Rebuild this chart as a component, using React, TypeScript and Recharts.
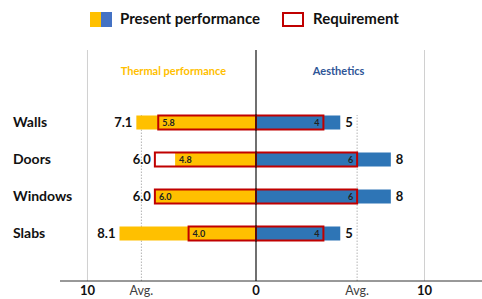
import { ComposedChart, Bar, XAxis, YAxis, ReferenceLine, LabelList, Legend } from 'recharts';

const categories = ['Walls', 'Doors', 'Windows', 'Slabs'];
const thermalPresent = [7.1, 4.8, 6.0, 8.1];
const thermalRequirement = [5.8, 6.0, 6.0, 4.0];
const aestheticsPresent = [5, 8, 8, 5];
const aestheticsRequirement = [4, 6, 6, 4];
const thermalAvg = 6.8;
const aestheticsAvg = 6.0;
const axisTicks = [-10, -thermalAvg, 0, aestheticsAvg, 10];

const FONT = "Lato, 'Noto Sans', sans-serif";
const YELLOW = '#FFC000';
const BLUE = '#2E75B6';
const LEGEND_BLUE = '#4472C4';
const RED = '#C00000';

// thermal goes to the left, so it is stored negative
const data = categories.map((category, i) => ({
    category,
    thermalPresent: -thermalPresent[i],
    thermalRequirement: -thermalRequirement[i],
    aestheticsPresent: aestheticsPresent[i],
    aestheticsRequirement: aestheticsRequirement[i],
}));

type Side = 'thermal' | 'aesthetics';

const makeLabel = (side: Side, series: 'present' | 'requirement', kind: 'outer' | 'inner') => (props: any) => {
    const vb = props.viewBox ?? props;
    const { x, y, width, height } = vb;
    const index = props.index;
    const p = side === 'thermal' ? thermalPresent[index] : aestheticsPresent[index];
    const r = side === 'thermal' ? thermalRequirement[index] : aestheticsRequirement[index];
    const mine = series === 'present' ? p : r;
    const other = series === 'present' ? r : p;
    // longer bar gets the big outside label, shorter one the small inside label
    const isLonger = mine > other || (mine === other && series === 'present');
    if ((kind === 'outer') !== isLonger) return null;
    const lo = Math.min(x, x + width);
    const hi = Math.max(x, x + width);
    const cy = y + height / 2;
    const left = side === 'thermal';
    const text = left ? mine.toFixed(1) : String(mine);
    if (kind === 'outer') {
        return (
            <text x={left ? lo - 4 : hi + 5} y={cy + 4.5} textAnchor={left ? 'end' : 'start'}
                fontFamily={FONT} fontWeight={700} fontSize={13} fill="#111">
                {text}
            </text>
        );
    }
    return (
        <text x={left ? lo + 4 : hi - 4} y={cy + 3.3} textAnchor={left ? 'start' : 'end'}
            fontFamily={FONT} fontWeight={700} fontSize={9} fill="#222">
            {text}
        </text>
    );
};

const CategoryTick = (props: any) => {
    const { y, payload } = props;
    return (
        <text x={13} y={y + 5} textAnchor="start" fontFamily={FONT} fontWeight={700} fontSize={14} fill="#111">
            {payload.value}
        </text>
    );
};

const ValueTick = (props: any) => {
    const { x, y, payload } = props;
    const v = payload.value;
    const isNumber = v === 0 || Math.abs(v) === 10;
    return (
        <text x={x} y={y + 6} textAnchor="middle" fontFamily={FONT}
            fontWeight={isNumber ? 700 : 400} fontSize={isNumber ? 13 : 12.5} fill={isNumber ? '#111' : '#404040'}>
            {isNumber ? String(Math.abs(v)) : 'Avg.'}
        </text>
    );
};

const avgLine = (p: any) => (
    <line x1={p.x1} x2={p.x2} y1={Math.max(p.y1, p.y2)} y2={Math.min(p.y1, p.y2) + 65}
        stroke="#b5b5b5" strokeWidth={1} strokeDasharray="1.5 1.5" />
);

const LegendContent = () => (
    <div style={{ position: 'relative', height: 40, fontFamily: FONT, fontWeight: 700, fontSize: 15, color: '#111', lineHeight: '20px' }}>
        <span style={{ position: 'absolute', left: 90, top: 12, width: 11, height: 15, background: YELLOW }} />
        <span style={{ position: 'absolute', left: 101, top: 12, width: 11, height: 15, background: LEGEND_BLUE }} />
        <span style={{ position: 'absolute', left: 120, top: 8, whiteSpace: 'nowrap' }}>Present performance</span>
        <span style={{ position: 'absolute', left: 282, top: 12, width: 22, height: 15, border: `2px solid ${RED}`, boxSizing: 'border-box', background: '#fff' }} />
        <span style={{ position: 'absolute', left: 313, top: 8, whiteSpace: 'nowrap' }}>Requirement</span>
    </div>
);

export default function App() {
    return (
        <div style={{ position: 'absolute', left: 0, top: 0, background: '#fff' }}>
            <ComposedChart
                width={482}
                height={299}
                data={data}
                layout="vertical"
                margin={{ top: 50, right: 0, bottom: 0, left: 0 }}
                barSize={14}
                barGap={-14}
            >
                <Legend verticalAlign="middle" align="center" layout="horizontal" content={<LegendContent />}
                    wrapperStyle={{ top: 0, left: 0, width: 482, height: 40 }} />
                <XAxis type="number" domain={[-11.63, 13.41]} allowDataOverflow ticks={axisTicks}
                    height={18} tickSize={6} tickMargin={2} tickLine={false}
                    axisLine={{ stroke: '#333', strokeWidth: 1 }} tick={<ValueTick />} interval={0} />
                <YAxis type="category" dataKey="category" width={60} axisLine={false} tickLine={false}
                    padding={{ top: 53.5, bottom: 29.5 }} tick={<CategoryTick />} />

                <ReferenceLine x={-10} stroke="#d0d0d0" strokeWidth={1} zIndex={-50} />
                <ReferenceLine x={10} stroke="#d0d0d0" strokeWidth={1} zIndex={-50} />
                <ReferenceLine x={-thermalAvg} shape={avgLine} zIndex={-50} />
                <ReferenceLine x={aestheticsAvg} shape={avgLine} zIndex={-50} />
                <ReferenceLine x={-4.9} stroke="none" zIndex={-50}
                    label={{ value: 'Thermal performance', position: 'insideTop', offset: 17.5, fill: YELLOW, fontSize: 11, fontWeight: 700, fontFamily: FONT }} />
                <ReferenceLine x={4.9} stroke="none" zIndex={-50}
                    label={{ value: 'Aesthetics', position: 'insideTop', offset: 17.5, fill: '#2F5597', fontSize: 11, fontWeight: 700, fontFamily: FONT }} />

                <Bar dataKey="thermalPresent" fill={YELLOW} isAnimationActive={false}>
                    <LabelList dataKey="thermalPresent" content={makeLabel('thermal', 'present', 'outer')} />
                    <LabelList dataKey="thermalPresent" content={makeLabel('thermal', 'present', 'inner')} />
                </Bar>
                <Bar dataKey="aestheticsPresent" fill={BLUE} isAnimationActive={false}>
                    <LabelList dataKey="aestheticsPresent" content={makeLabel('aesthetics', 'present', 'outer')} />
                    <LabelList dataKey="aestheticsPresent" content={makeLabel('aesthetics', 'present', 'inner')} />
                </Bar>
                <Bar dataKey="thermalRequirement" fill="none" stroke={RED} strokeWidth={2} isAnimationActive={false}>
                    <LabelList dataKey="thermalRequirement" content={makeLabel('thermal', 'requirement', 'outer')} />
                    <LabelList dataKey="thermalRequirement" content={makeLabel('thermal', 'requirement', 'inner')} />
                </Bar>
                <Bar dataKey="aestheticsRequirement" fill="none" stroke={RED} strokeWidth={2} isAnimationActive={false}>
                    <LabelList dataKey="aestheticsRequirement" content={makeLabel('aesthetics', 'requirement', 'outer')} />
                    <LabelList dataKey="aestheticsRequirement" content={makeLabel('aesthetics', 'requirement', 'inner')} />
                </Bar>

                <ReferenceLine x={0} stroke="#111" strokeWidth={1.2} zIndex={1000} />
            </ComposedChart>
        </div>
    );
}
